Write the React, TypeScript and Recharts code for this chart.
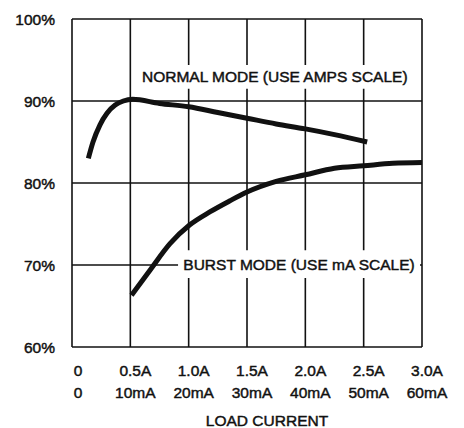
import React from 'react'
import {
  CartesianGrid,
  Line,
  LineChart,
  ReferenceArea,
  XAxis,
  YAxis,
} from 'recharts'

// efficiency axis
const efficiencyTicks = [60, 70, 80, 90, 100]

// load current axis: amps on top row, mA on bottom row
const ampTicks = [0, 0.5, 1.0, 1.5, 2.0, 2.5, 3.0]
const ampLabels = ['0', '0.5A', '1.0A', '1.5A', '2.0A', '2.5A', '3.0A']
const maLabels = ['0', '10mA', '20mA', '30mA', '40mA', '50mA', '60mA']

// normal mode, read against the amps scale
const normalAmps = [0.14, 0.18, 0.24, 0.3, 0.37, 0.44, 0.52, 0.75, 1.0, 1.25, 1.5, 1.75, 2.0, 2.25, 2.53]
const normalEff = [83.0, 85.0, 87.1, 88.5, 89.5, 90.0, 90.2, 89.7, 89.3, 88.6, 87.9, 87.2, 86.6, 85.9, 85.0]

// burst mode, read against the mA scale
const burstMa = [10.2, 13.4, 16.8, 20.2, 23.7, 27, 30, 35, 40, 45, 50, 55, 60]
const burstEff = [66.3, 69.4, 72.6, 74.9, 76.5, 77.8, 78.9, 80.2, 81.0, 81.8, 82.1, 82.4, 82.5]

const normalData = normalAmps.map((a, i) => ({ amps: a, eff: normalEff[i] }))
const burstData = burstMa.map((m, i) => ({ ma: m, eff: burstEff[i] }))

const FONT = "'Liberation Sans', Arial, sans-serif"
const INK = '#111'

// a thin outline on the glyphs gives the heavier print look
const textStyle = { stroke: INK, strokeWidth: 0.45 }

function CurrentTick(props: any) {
  const { x, y, payload } = props
  const i = ampTicks.indexOf(payload.value)
  const dx = i === 0 ? 6 : 5
  return (
    <g fontFamily={FONT} fontSize={15.5} fill={INK} style={textStyle}>
      <text x={x + dx} y={y + 28.5} textAnchor='middle'>
        {ampLabels[i]}
      </text>
      <text x={x + dx} y={y + 50.5} textAnchor='middle'>
        {maLabels[i]}
      </text>
    </g>
  )
}

export default function App() {
  return (
    <div style={{ position: 'absolute', left: 0, top: 0, background: '#fff' }}>
      <LineChart
        width={464}
        height={428}
        margin={{ top: 19, right: 42, bottom: 1, left: 0 }}
      >
        <CartesianGrid stroke={INK} strokeWidth={1.6} />
        <XAxis
          type='number'
          dataKey='amps'
          domain={[0, 3]}
          ticks={ampTicks}
          height={80}
          axisLine={false}
          tickLine={false}
          tickSize={0}
          tickMargin={0}
          tick={<CurrentTick />}
          interval={0}
          label={{
            value: 'LOAD CURRENT',
            position: 'insideBottom',
            offset: 1,
            dx: 20,
            fill: INK,
            fontSize: 15.5,
            fontFamily: FONT,
            style: textStyle,
          }}
        />
        <XAxis xAxisId='ma' type='number' dataKey='ma' domain={[0, 60]} hide />
        <YAxis
          type='number'
          domain={[60, 100]}
          ticks={efficiencyTicks}
          width={72}
          axisLine={false}
          tickLine={false}
          tickSize={0}
          tickMargin={17}
          tickFormatter={(v) => `${v}%`}
          tick={{ fill: INK, fontSize: 15.5, fontFamily: FONT, style: textStyle }}
        />
        <ReferenceArea
          x1={0.566}
          x2={2.91}
          y1={91.5}
          y2={94.4}
          fill='#fff'
          fillOpacity={1}
          stroke='none'
          label={{
            value: 'NORMAL MODE (USE AMPS SCALE)',
            position: 'center',
            fill: INK,
            fontSize: 15.5,
            fontFamily: FONT,
            style: textStyle,
          }}
        />
        <ReferenceArea
          x1={0.909}
          x2={2.983}
          y1={68.4}
          y2={71.8}
          fill='#fff'
          fillOpacity={1}
          stroke='none'
          label={{
            value: 'BURST MODE (USE mA SCALE)',
            position: 'center',
            fill: INK,
            fontSize: 15.5,
            fontFamily: FONT,
            style: textStyle,
          }}
        />
        <Line
          data={normalData}
          dataKey='eff'
          type='monotone'
          stroke={INK}
          strokeWidth={5}
          dot={false}
          strokeLinejoin='round'
          isAnimationActive={false}
        />
        <Line
          data={burstData}
          xAxisId='ma'
          dataKey='eff'
          type='monotone'
          stroke={INK}
          strokeWidth={5}
          dot={false}
          strokeLinejoin='round'
          isAnimationActive={false}
        />
      </LineChart>
    </div>
  )
}
